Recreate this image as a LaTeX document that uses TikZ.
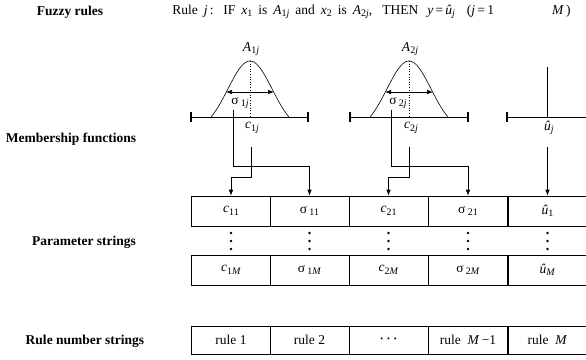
\documentclass[tikz,border=0pt]{standalone}
\usepackage{fontspec}
\setmainfont{Liberation Serif}
\usetikzlibrary{arrows.meta}

\newcommand{\va}[1]{\textit{#1}}
\newcommand{\sbs}[1]{\raisebox{-0.4ex}{\fontsize{10}{12}\selectfont #1}}

\tikzset{
  lbl/.style = {font=\fontsize{13.5}{16}\selectfont\bfseries},
  cell/.style = {draw, minimum width=79pt, minimum height=30pt, inner sep=0pt},
  rulecell/.style = {cell, minimum height=28pt},
  arr/.style = {-{Latex[length=6pt,width=4.5pt]}},
  dblarr/.style = {{Latex[length=6pt,width=4.5pt]}-{Latex[length=6pt,width=4.5pt]}},
  endtick/.style = {line width=1.8pt},
}

\begin{document}
\begin{tikzpicture}[x=1pt, y=-1pt, font=\fontsize{13.5}{16}\selectfont, line width=0.6pt]
        \useasboundingbox (0,0) rectangle (586,359);

        % row labels
        \node[lbl] (fr) at (70,12) {Fuzzy rules};
        \node[lbl] (mf) at (71,139) {Membership functions};
        \node[lbl] (ps) at (84,242) {Parameter strings};
        \node[lbl] (rn) at (85,341) {Rule number strings};

        % the rule
        \node[anchor=west, inner sep=0pt] (rule) at (172,12) {\makebox[200pt][s]{Rule \va{j}\,: IF \va{x}\sbs{1} is \va{A}\sbs{1\va{j}} and \va{x}\sbs{2} is \va{A}\sbs{2\va{j}},}\hspace{10pt}THEN\hspace{9pt}\va{y}\,=\,\va{\^u}\sbs{\va{j}}\hspace{12pt}(\va{j}\,=\,1\hspace{58pt}\va{M}\,)};

        % first membership function
        \draw (191,117) -- (308,117);
        \draw [endtick] (191,112) -- (191,122);
        \draw [endtick] (308,112) -- (308,122);
        \draw plot[domain=-39:39, samples=60, smooth] ({250+\x}, {117-56*(exp(-\x*\x/968)-0.208)/(1-0.208)});
        \draw [dotted] (250,61) -- (250,117);
        \draw [dblarr] (226,92) -- (274,92);
        \node (a1) at (251,49) {\va{A}\sbs{1\va{j}}};
        \node (s1) at (240,103) {σ\,\sbs{1\va{j}}};
        \node (c1) at (252,128) {\va{c}\sbs{1\va{j}}};

        % second membership function
        \draw (350,117) -- (468,117);
        \draw [endtick] (350,112) -- (350,122);
        \draw [endtick] (468,112) -- (468,122);
        \draw plot[domain=-39:39, samples=60, smooth] ({409+\x}, {117-56*(exp(-\x*\x/968)-0.208)/(1-0.208)});
        \draw [dotted] (409,61) -- (409,117);
        \draw [dblarr] (385,92) -- (433,92);
        \node (a2) at (410,49) {\va{A}\sbs{2\va{j}}};
        \node (s2) at (398,103) {σ\,\sbs{2\va{j}}};
        \node (c2) at (411,128) {\va{c}\sbs{2\va{j}}};

        % singleton
        \draw (507,117) -- (590,117);
        \draw [endtick] (507,112) -- (507,122);
        \draw (547.5,67) -- (547.5,117);
        \node (uj) at (549,128) {\va{\^u}\sbs{\va{j}}};

        % parameter strings
        \node[cell] (c11) at (231,211) {\va{c}\sbs{11}};
        \node[cell] (s11) at (309.5,211) {σ\,\sbs{11}};
        \node[cell] (c21) at (388.5,211) {\va{c}\sbs{21}};
        \node[cell] (s21) at (468,211) {σ\,\sbs{21}};
        \node[cell] (u1) at (547.5,211) {\va{\^u}\sbs{1}};

        \node[cell] (c1M) at (231,270) {\va{c}\sbs{1\va{M}}};
        \node[cell] (s1M) at (309.5,270) {σ\,\sbs{1\va{M}}};
        \node[cell] (c2M) at (388.5,270) {\va{c}\sbs{2\va{M}}};
        \node[cell] (s2M) at (468,270) {σ\,\sbs{2\va{M}}};
        \node[cell] (uM) at (547.5,270) {\va{\^u}\sbs{\va{M}}};

        \foreach \px in {231,309.5,388.5,468,547.5} {
          \fill (\px,233) circle(1.3);
          \fill (\px,241) circle(1.3);
          \fill (\px,249) circle(1.3);
        }

        % connectors
        \coordinate (s1top) at (233,110);
        \coordinate (c1bot) at (251,147);
        \coordinate (s2top) at (391,110);
        \coordinate (c2bot) at (409,147);
        \coordinate (ujbot) at (547.5,147);
        \draw [arr] (s1top) -- ++(0,56) -| (s11.north);
        \draw [arr] (c1bot) -- ++(0,30) -| (c11.north);
        \draw [arr] (s2top) -- ++(0,56) -| (s21.north);
        \draw [arr] (c2bot) -- ++(0,30) -| (c21.north);
        \draw [arr] (ujbot) -- (u1.north);

        % rule number strings
        \node[rulecell] (r1) at (231,340) {rule 1};
        \node[rulecell] (r2) at (309.5,340) {rule 2};
        \node[rulecell] (r3) at (388.5,340) {{\fontsize{8}{9}\selectfont\textbullet\hspace{4pt}\textbullet\hspace{4pt}\textbullet}};
        \node[rulecell] (r4) at (468,340) {rule \ \va{M}\,−1};
        \node[rulecell] (r5) at (547.5,340) {rule \ \va{M}};
    \end{tikzpicture}
\end{document}
